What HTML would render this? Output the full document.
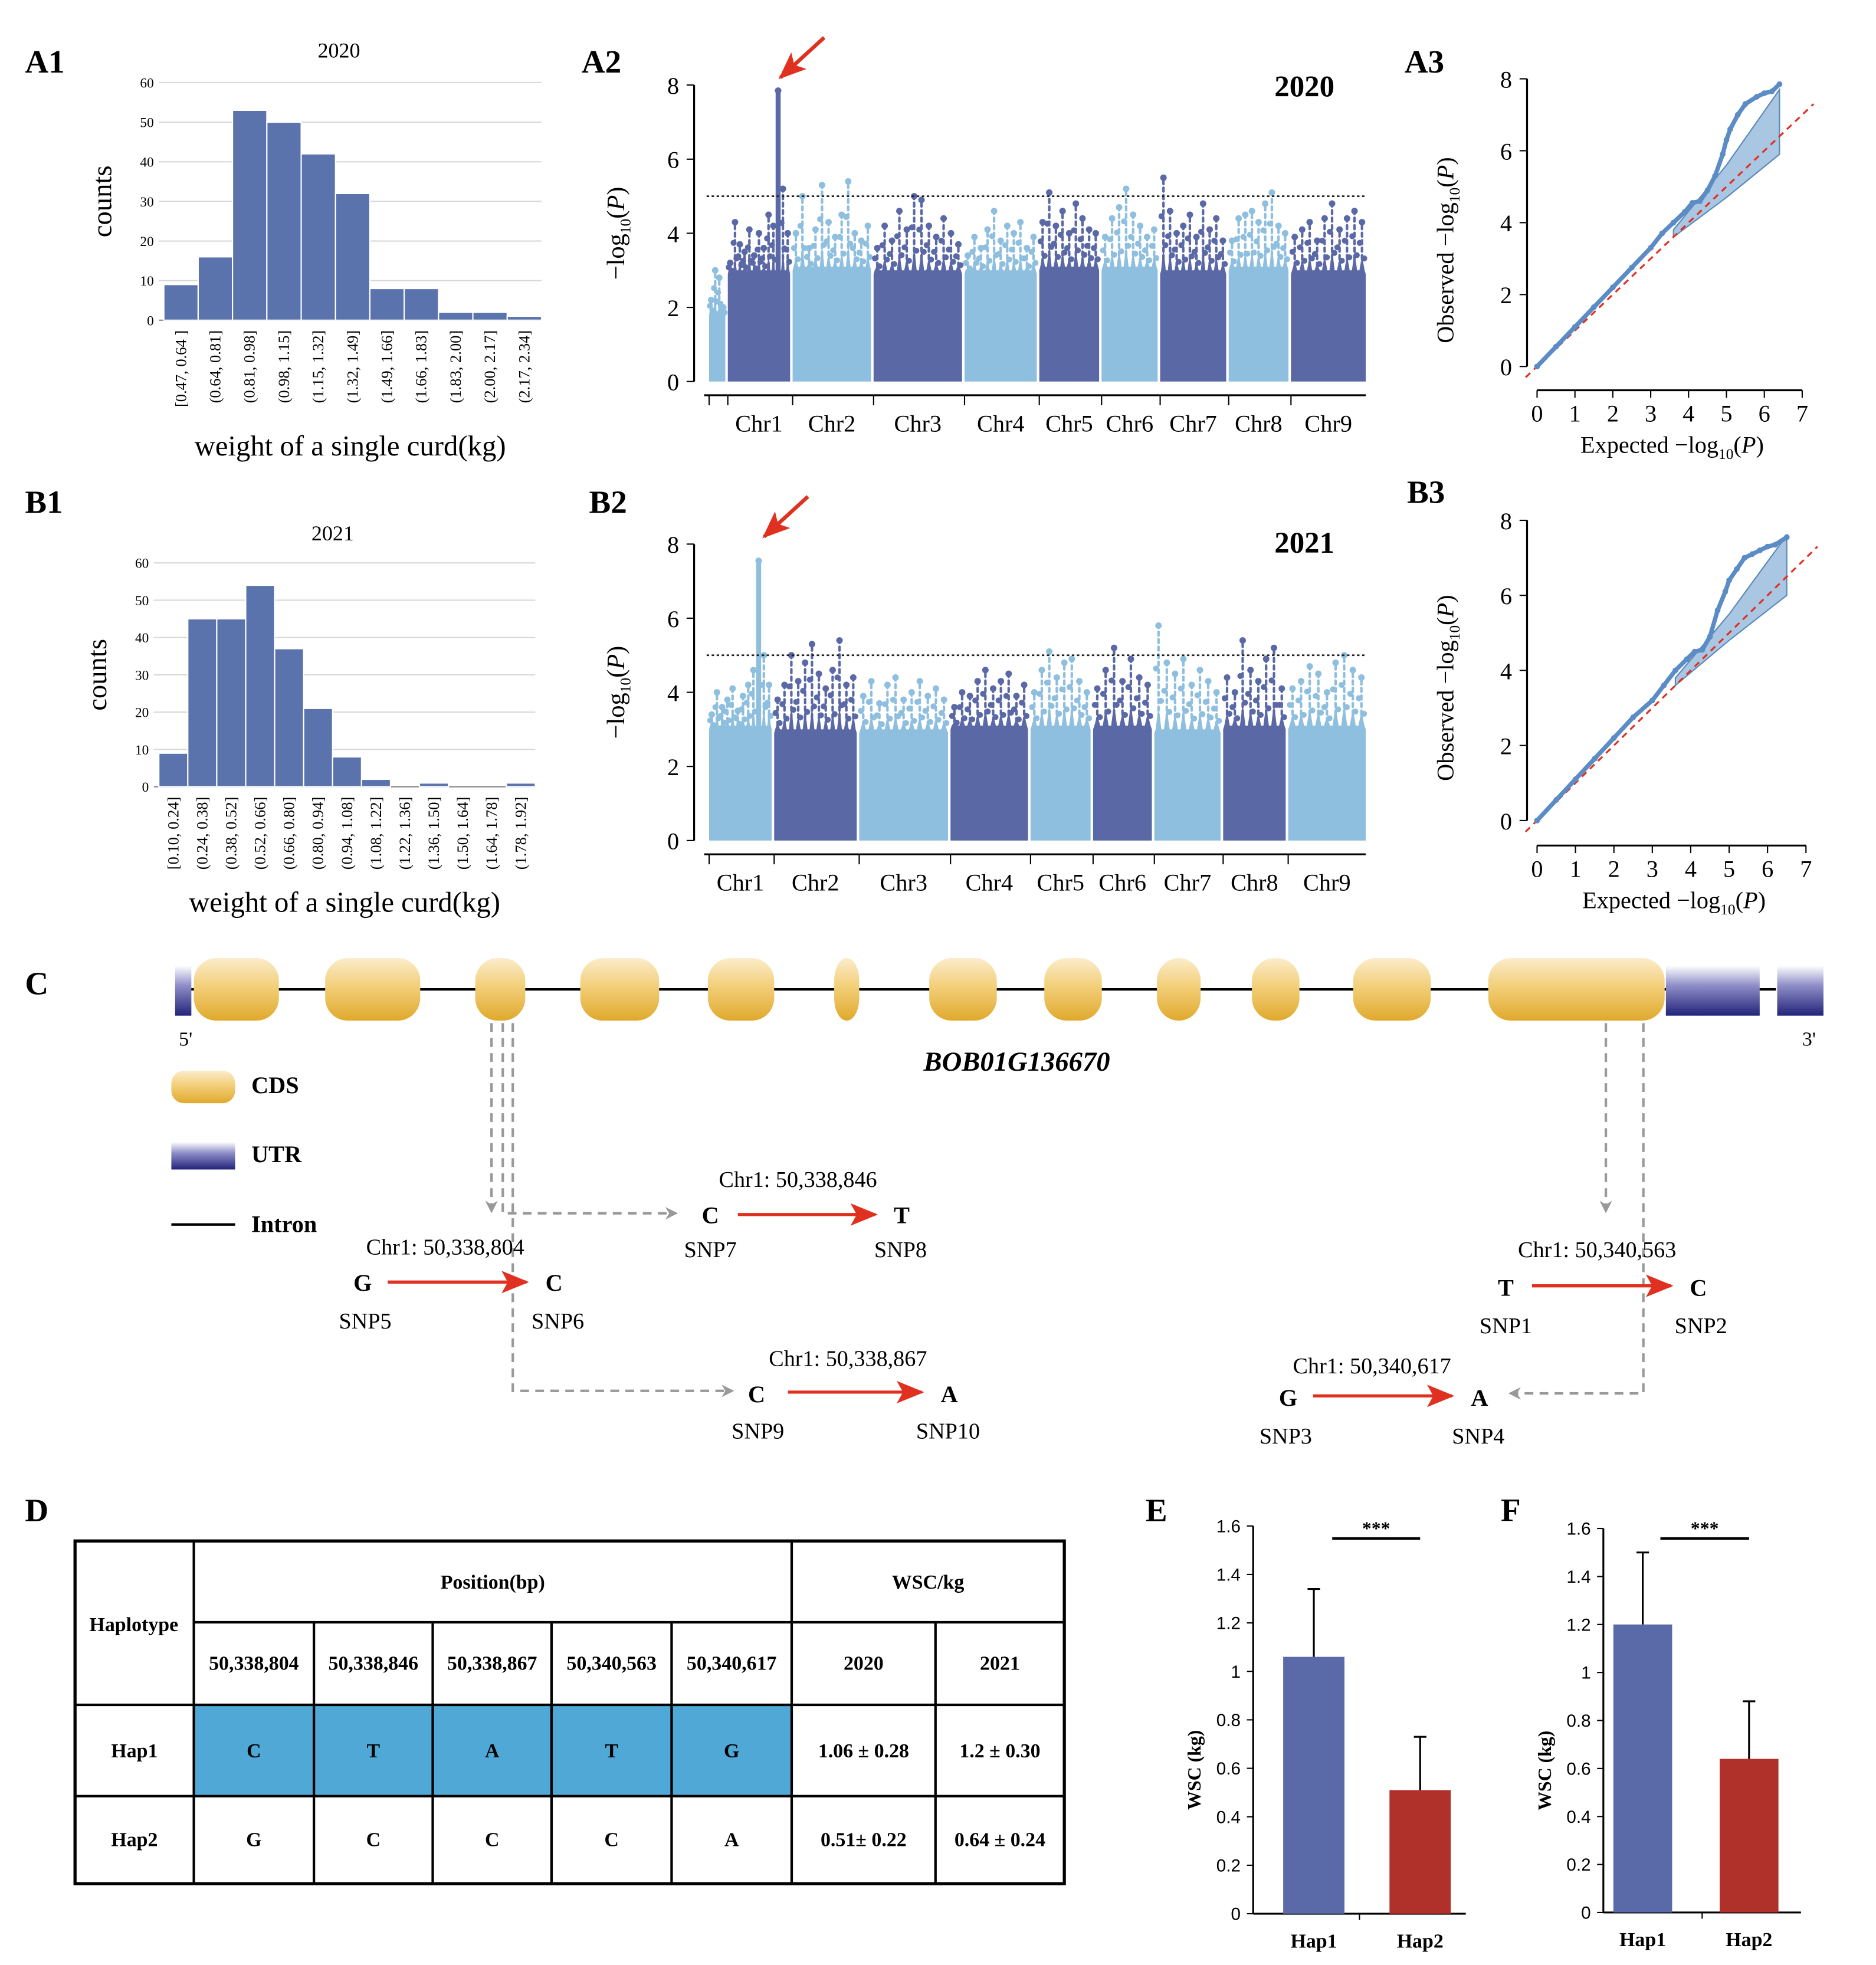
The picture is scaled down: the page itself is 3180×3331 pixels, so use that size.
<!DOCTYPE html>
<html><head><meta charset="utf-8">
<style>
html,body{margin:0;padding:0;background:#fff;}
svg{display:block;font-family:"Liberation Serif",serif;}
</style></head>
<body>
<svg id="fig" width="3180" height="3331" viewBox="0 0 1500 1571" preserveAspectRatio="none" xmlns="http://www.w3.org/2000/svg">
<defs>
<linearGradient id="cds" x1="0" y1="0" x2="0" y2="1">
<stop offset="0" stop-color="#fbeccb"/><stop offset="0.45" stop-color="#f3cf7a"/><stop offset="1" stop-color="#e0a92c"/></linearGradient>
<linearGradient id="utr" x1="0" y1="0" x2="0" y2="1">
<stop offset="0" stop-color="#ffffff"/><stop offset="0.4" stop-color="#8e8ec8"/><stop offset="1" stop-color="#23237a"/></linearGradient>
<marker id="ga" markerWidth="10" markerHeight="10" refX="8" refY="5" orient="auto" markerUnits="userSpaceOnUse"><path d="M0,0 L10,5 L0,10 L3,5 Z" fill="#999"/></marker>
<marker id="ra" markerWidth="22" markerHeight="18" refX="20" refY="9" orient="auto" markerUnits="userSpaceOnUse"><path d="M0,0 L22,9 L0,18 L5,9 Z" fill="#e03020"/></marker>
</defs>
<g id="root"></g>
</svg>
<script>
// ---------- DATA ----------
const histA1Values=[9,16,53,50,42,32,8,8,2,2,1];
const histA1Labels=["[0.47, 0.64 ]","(0.64, 0.81]","(0.81, 0.98]","(0.98, 1.15]","(1.15, 1.32]","(1.32, 1.49]","(1.49, 1.66]","(1.66, 1.83]","(1.83, 2.00]","(2.00, 2.17]","(2.17, 2.34]"];
const histB1Values=[9,45,45,54,37,21,8,2,0,1,0,0,1];
const histB1Labels=["[0.10, 0.24]","(0.24, 0.38]","(0.38, 0.52]","(0.52, 0.66]","(0.66, 0.80]","(0.80, 0.94]","(0.94, 1.08]","(1.08, 1.22]","(1.22, 1.36]","(1.36, 1.50]","(1.50, 1.64]","(1.64, 1.78]","(1.78, 1.92]"];
const histTicks=[0,10,20,30,40,50,60];

const chrNamesA2=["","Chr1","Chr2","Chr3","Chr4","Chr5","Chr6","Chr7","Chr8","Chr9"];
const chrLenA2=[13,50,63,71,58,48,45,53,48,60];
const chrBulkA2=[1.8,2.9,3.0,2.9,2.9,3.0,3.0,2.9,3.0,2.9];
const chrPeaksA2=[
 [2.2,3.0,2.8,2.0],
 [3.2,4.3,3.7,3.5,4.1,3.4,4.0,3.6,4.5,4.2,7.85,5.2,4.0],
 [4.0,5.0,3.6,4.1,5.3,4.3,3.9,4.5,5.4,4.0,3.8,4.2],
 [3.6,4.2,3.8,4.6,4.1,5.0,4.9,4.2,3.9,4.4,4.0,3.7],
 [3.4,3.9,3.6,4.1,4.6,3.8,4.2,4.0,4.3,3.6,3.9],
 [4.3,5.1,4.2,4.6,4.0,4.8,4.4,4.1,4.0],
 [3.9,4.4,4.7,5.2,4.5,4.2,3.9,4.1],
 [5.5,4.6,4.0,4.2,4.5,3.9,4.8,4.1,4.4,3.8],
 [3.8,4.4,4.5,4.6,4.3,4.8,5.1,4.2,4.0],
 [3.9,4.1,4.3,3.8,4.4,4.8,4.1,4.4,4.6,4.3]
];
const chrNamesB2=["Chr1","Chr2","Chr3","Chr4","Chr5","Chr6","Chr7","Chr8","Chr9"];
const chrLenB2=[50,66,71,62,48,47,53,50,62];
const chrBulkB2=[3.0,2.9,2.9,3.0,3.0,3.0,2.9,3.0,3.0];
const chrPeaksB2=[
 [3.4,4.0,3.6,3.8,4.1,3.5,3.9,4.2,4.6,7.55,5.0,4.2],
 [3.8,4.2,5.0,4.3,4.8,5.3,4.5,4.1,4.6,5.4,4.2,4.4],
 [3.9,4.3,3.7,4.2,4.4,3.8,4.0,4.3,3.9,4.1,3.8],
 [3.6,4.0,3.9,4.3,4.6,4.1,4.3,4.5,3.9,4.2],
 [4.0,4.6,5.1,4.4,4.8,4.9,4.3,4.0],
 [4.1,4.6,5.2,4.3,4.9,4.4,4.2],
 [5.8,4.8,4.5,4.9,4.2,4.6,4.3,4.0],
 [4.4,4.0,5.4,4.6,4.3,4.9,5.2,4.1],
 [4.1,4.3,4.7,4.5,4.0,4.8,5.0,4.6,4.4]
];
const manhattanTicks=[0,2,4,6,8];

const qqExpA3=[0,0.5,1,1.5,2,2.5,3,3.3,3.6,3.9,4.1,4.3,4.5,4.7,4.9,5.0,5.1,5.3,5.5,5.8,6.0,6.2,6.4];
const qqObsA3=[0,0.55,1.1,1.65,2.2,2.75,3.3,3.7,4.0,4.3,4.55,4.6,4.9,5.3,5.9,6.3,6.6,7.0,7.3,7.5,7.6,7.65,7.85];
const qqBandXA3=[3.6,5,6.4];
const qqBandUpA3=[3.8,5.6,7.7];
const qqBandLoA3=[3.6,4.7,5.9];
const qqExpB3=[0,0.5,1,1.5,2,2.5,3,3.3,3.6,3.9,4.1,4.3,4.5,4.7,4.9,5.0,5.2,5.4,5.6,5.8,6.0,6.2,6.5];
const qqObsB3=[0,0.55,1.1,1.65,2.2,2.75,3.2,3.6,4.0,4.3,4.5,4.55,4.9,5.6,6.1,6.4,6.7,7.0,7.1,7.2,7.3,7.35,7.55];
const qqBandXB3=[3.6,5,6.5];
const qqBandUpB3=[3.8,5.5,7.6];
const qqBandLoB3=[3.6,4.8,6.0];
const qqXTicks=[0,1,2,3,4,5,6,7];
const qqYTicks=[0,2,4,6,8];

const barCats=["Hap1","Hap2"];
const barE=[1.06,0.51];
const errE=[0.28,0.22];
const barF=[1.2,0.64];
const errF=[0.30,0.24];
const barTicks=["0","0.2","0.4","0.6","0.8","1","1.2","1.4","1.6"];

// ---------- HELPERS ----------
const NS="http://www.w3.org/2000/svg";
const root=document.getElementById('root');
function el(tag,attrs,parent,txt){const e=document.createElementNS(NS,tag);for(const k in attrs)e.setAttribute(k,attrs[k]);if(txt!==undefined)e.textContent=txt;(parent||root).appendChild(e);return e;}
function grp(name){const g=el('g',{});return g;}
function lin(d0,d1,r0,r1){return v=>r0+(v-d0)*(r1-r0)/(d1-d0);}

// ---------- PANEL LABELS ----------
const panelLabels=[["A1",20,58],["A2",465,58],["A3",1123,58],["B1",20,410],["B2",471,410],["B3",1125,402],["C",20,795],["D",20,1216],["E",916,1216],["F",1200,1216]];
const gl=grp('panel-labels');
panelLabels.forEach(p=>{const t=el('text',{x:p[1],y:p[2],'font-size':26,'font-weight':'bold'},gl,p[0]);});

// ---------- HISTOGRAMS ----------
function hist(name,vals,labels,x0,x1,yb,yt,title,tx,ty,xtY){
 const g=grp(name);
 const y=lin(0,60,yb,yt);
 histTicks.forEach(t=>{
  const l=el('line',{x1:x0-4,x2:x1,y1:y(t),y2:y(t),stroke:t==0?'#888':'#d8d8d8','stroke-width':1},g);
  
  const tt=el('text',{x:x0-8,y:y(t)+4,'font-size':11,'text-anchor':'end'},g,t);
  
 });
 const w=(x1-x0)/vals.length;
 vals.forEach((v,i)=>{
  const r=el('rect',{x:x0+i*w,y:y(v),width:w,height:yb-y(v),fill:'#5a73ad',stroke:'#fff','stroke-width':1},g);
  
  const t=el('text',{x:0,y:0,'font-size':12.5,'text-anchor':'end',transform:`translate(${x0+i*w+w/2+4},${yb+8}) rotate(-90)`},g,labels[i]);
  
 });
 const ti=el('text',{x:tx,y:ty,'font-size':17,'text-anchor':'middle'},g,title);
 const yl=el('text',{x:0,y:0,'font-size':22,'text-anchor':'middle',transform:`translate(${x0-42},${(yb+yt)/2}) rotate(-90)`},g,'counts');
 
 const xl=el('text',{x:(x0+x1)/2-2,y:xtY,'font-size':23,'text-anchor':'middle'},g,'weight of a single curd(kg)');
 
}
hist('histogram-a1',histA1Values,histA1Labels,131,433,256,66,'2020',271,46,364);
hist('histogram-b1',histB1Values,histB1Labels,127,428,629,450,'2021',266,432,729);

// ---------- MANHATTAN ----------
function manhattan(name,names,lens,bulks,peaks,darkFirst,yb,yt,x0,x1,title,ty,arrowX,tickY,tickLblY){
 const g=grp(name);
 const y=lin(0,8,yb,yt);
 const total=lens.reduce((a,b)=>a+b,0)+2*(lens.length-1);
 const xs=lin(0,total,x0+2,x1);
 const dark='#5a68a6',light='#8fbfde';
 let a=el('line',{x1:x0-10,x2:x0-10,y1:yb,y2:yt,stroke:'#000','stroke-width':1.5},g);
 manhattanTicks.forEach(t=>{el('line',{x1:x0-16,x2:x0-10,y1:y(t),y2:y(t),stroke:'#000'},g);
  const tt=el('text',{x:x0-22,y:y(t)+7,'font-size':19,'text-anchor':'end'},g,t);});
 const yl=el('text',{x:0,y:0,'font-size':20,'text-anchor':'middle',transform:`translate(${x0-66},${(yb+yt)/2}) rotate(-90)`},g);
 
 el('tspan',{},yl,'\u2212log');el('tspan',{'font-size':12,dy:5},yl,'10');el('tspan',{dy:-5},yl,'(');el('tspan',{'font-style':'italic'},yl,'P');el('tspan',{},yl,')');
 a=el('line',{x1:x0-2,x2:x1,y1:tickY,y2:tickY,stroke:'#000','stroke-width':1.5},g);
 let cum=0;
 lens.forEach((L,i)=>{
  const s=xs(cum),e=xs(cum+L);cum+=L+2;
  const isDark=(i%2==0)===darkFirst;const c=isDark?dark:light;
  const pk=peaks[i];const n=pk.length;const dx=(e-s)/n;
  let pts=[s+','+yb];
  pts.push(s+','+y(bulks[i]));
  pk.forEach((v,j)=>{const px=s+(j+0.5)*dx;const m=bulks[i]+(Math.min(v,5)-bulks[i])*0.35;
   pts.push((px-dx*0.35)+','+y(bulks[i]+0.1));pts.push(px+','+y(m));pts.push((px+dx*0.35)+','+y(bulks[i]+0.1));});
  pts.push(e+','+y(bulks[i]));pts.push(e+','+yb);
  const r=el('polygon',{points:pts.join(' '),fill:c},g);
  
  pk.forEach((v,j)=>{
   const px=s+(j+0.5)*dx;
   const st=el('line',{x1:px,x2:px,y1:y(bulks[i]),y2:y(v),stroke:c,'stroke-width':v>6?4:2,'stroke-dasharray':v>6?'none':'3,3','stroke-linecap':'round'},g);
   
   const d=el('circle',{cx:px,cy:y(v),r:2.6,fill:c},g);
   if(v<6){
    [0.3,0.6].forEach((f,k)=>{const d2=el('circle',{cx:px+(k?-1:1)*dx*0.3,cy:y(bulks[i]+(v-bulks[i])*f),r:2.4,fill:c},g);});
   }
  });
  el('line',{x1:s,x2:s,y1:tickY,y2:tickY+8,stroke:'#000'},g);
  if(names[i]){const t=el('text',{x:(s+e)/2,y:tickLblY,'font-size':19,'text-anchor':'middle'},g,names[i]);}
 });
 const th=el('line',{x1:x0,x2:x1,y1:y(5),y2:y(5),stroke:'#222','stroke-width':1.3,'stroke-dasharray':'2,2'},g);
 
 const ti=el('text',{x:x1-25,y:ty,'font-size':24,'font-weight':'bold','text-anchor':'end'},g,title);
 const ar=el('line',{x1:arrowX+35,y1:yt-38,x2:arrowX,y2:yt-6,stroke:'#e03020','stroke-width':3,'marker-end':'url(#ra)'},g);
 
}
manhattan('manhattan-a2',chrNamesA2,chrLenA2,chrBulkA2,chrPeaksA2,false,305,68,565,1092,'2020',77,624,316,345);
manhattan('manhattan-b2',chrNamesB2,chrLenB2,chrBulkB2,chrPeaksB2,false,672,435,565,1092,'2021',442,611,683,712);

// ---------- QQ ----------
function qq(name,ex,ob,bx,bu,bl,x0,x1,yb,yt,xaxY,ylblY){
 const g=grp(name);
 const x=lin(0,7,x0,x1),y=lin(0,8,yb,yt);
 let a=el('line',{x1:x0-8,x2:x0-8,y1:yb,y2:yt,stroke:'#000','stroke-width':1.5},g);
 qqYTicks.forEach(t=>{el('line',{x1:x0-14,x2:x0-8,y1:y(t),y2:y(t),stroke:'#000'},g);
  const tt=el('text',{x:x0-20,y:y(t)+7,'font-size':19,'text-anchor':'end'},g,t);});
 a=el('line',{x1:x0,x2:x(7),y1:xaxY,y2:xaxY,stroke:'#000','stroke-width':1.5},g);
 qqXTicks.forEach(t=>{el('line',{x1:x(t),x2:x(t),y1:xaxY,y2:xaxY+6,stroke:'#000'},g);
  const tt=el('text',{x:x(t),y:xaxY+25,'font-size':19,'text-anchor':'middle'},g,t);});
 let pts=bx.map((v,i)=>x(v)+','+y(bu[i])).concat(bx.slice().reverse().map((v,i)=>x(v)+','+y(bl[bl.length-1-i])));
 const band=el('polygon',{points:pts.join(' '),fill:'#a9c6e2',stroke:'#5a88b8','stroke-width':1},g);
 const dl=el('line',{x1:x(-0.3),y1:y(-0.3),x2:x(7.3),y2:y(7.3),stroke:'#e03020','stroke-width':1.5,'stroke-dasharray':'5,4'},g);
 
 const pl=el('polyline',{points:ex.map((v,i)=>x(v)+','+y(ob[i])).join(' '),fill:'none',stroke:'#5b8cc6','stroke-width':3.5,'stroke-linejoin':'round'},g);
 
 ex.forEach((v,i)=>{const c=el('circle',{cx:x(v),cy:y(ob[i]),r:2.3,fill:'#5b8cc6'},g);});
 const xl=el('text',{x:(x0+x(7))/2+2,y:xaxY+50,'font-size':19,'text-anchor':'middle'},g);
 el('tspan',{},xl,'Expected  \u2212log');el('tspan',{'font-size':12,dy:5},xl,'10');el('tspan',{dy:-5},xl,'(');el('tspan',{'font-style':'italic'},xl,'P');el('tspan',{},xl,')');
 const yl=el('text',{x:0,y:0,'font-size':19,'text-anchor':'middle',transform:`translate(${x0-67},${ylblY}) rotate(-90)`},g);
 el('tspan',{},yl,'Observed  \u2212log');el('tspan',{'font-size':12,dy:5},yl,'10');el('tspan',{dy:-5},yl,'(');el('tspan',{'font-style':'italic'},yl,'P');el('tspan',{},yl,')');
}
qq('qq-a3',qqExpA3,qqObsA3,qqBandXA3,qqBandUpA3,qqBandLoA3,1229,1441,293,63,312,200);
qq('qq-b3',qqExpB3,qqObsB3,qqBandXB3,qqBandUpB3,qqBandLoB3,1229,1444,656,416,676,550);

// ---------- GENE MODEL ----------
(function(){
 const g=grp('gene-model');
 const il=el('line',{x1:150,x2:1420,y1:791,y2:791,stroke:'#000','stroke-width':2},g);
 [[140,153],[1332,1407],[1421,1458]].forEach(u=>{const r=el('rect',{x:u[0],y:772,width:u[1]-u[0],height:40,fill:'url(#utr)'},g);});
 [[155,223],[260,336],[380,420],[464,527],[566,619],[667,687],[743,797],[835,881],[925,960],[1001,1039],[1082,1144],[1190,1331]].forEach(e=>{
  const w=e[1]-e[0];const r=el('rect',{x:e[0],y:766,width:w,height:50,rx:Math.min(w/2,18),ry:18,fill:'url(#cds)'},g);});
 const t=[["5'",143,836,16,''],["3'",1441,836,16,''],["BOB01G136670",813,856,22,'bi']];
 t.forEach(a=>{const tx=el('text',{x:a[1],y:a[2],'font-size':a[3],'text-anchor':a[4]?'middle':'start','font-weight':a[4]?'bold':'normal','font-style':a[4]?'italic':'normal'},g,a[0]);});
 let r=el('rect',{x:137,y:856,width:51,height:26,rx:10,fill:'url(#cds)'},g);
 r=el('rect',{x:137,y:913,width:51,height:22,fill:'url(#utr)'},g);
 r=el('line',{x1:137,x2:188,y1:979,y2:979,stroke:'#000','stroke-width':2},g);
 [["CDS",874],["UTR",929],["Intron",985]].forEach(a=>{const tx=el('text',{x:201,y:a[1],'font-size':19,'font-weight':'bold'},g,a[0]);});
 const ds={stroke:'#999','stroke-width':2,'stroke-dasharray':'7,5',fill:'none','marker-end':'url(#ga)'};
 [["M393,818 L393,968"],["M402,818 L402,970 L540,970"],["M410,818 L410,1112 L585,1112"],["M1284,818 L1284,968"],["M1314,818 L1314,1114 L1208,1114"]].forEach(p=>{
  const a=el('path',Object.assign({d:p[0]},ds),g);});
 const snps=[
  ["Chr1: 50,338,804",356,1003,"G",290,1032,"C",443,1032,"SNP5",292,1062,"SNP6",446,1062,310,421,1025],
  ["Chr1: 50,338,846",638,949,"C",568,978,"T",721,978,"SNP7",568,1005,"SNP8",720,1005,590,700,971],
  ["Chr1: 50,338,867",678,1092,"C",605,1121,"A",759,1121,"SNP9",606,1150,"SNP10",758,1150,630,737,1113],
  ["Chr1: 50,340,563",1277,1005,"T",1204,1036,"C",1358,1036,"SNP1",1204,1066,"SNP2",1360,1066,1225,1336,1028],
  ["Chr1: 50,340,617",1097,1098,"G",1030,1124,"A",1183,1124,"SNP3",1028,1154,"SNP4",1182,1154,1050,1161,1116]
 ];
 snps.forEach(s=>{
  let tx=el('text',{x:s[1],y:s[2],'font-size':18,'text-anchor':'middle'},g,s[0]);
  tx=el('text',{x:s[4],y:s[5],'font-size':19,'font-weight':'bold','text-anchor':'middle'},g,s[3]);
  tx=el('text',{x:s[7],y:s[8],'font-size':19,'font-weight':'bold','text-anchor':'middle'},g,s[6]);
  tx=el('text',{x:s[10],y:s[11],'font-size':18,'text-anchor':'middle'},g,s[9]);
  tx=el('text',{x:s[13],y:s[14],'font-size':18,'text-anchor':'middle'},g,s[12]);
  const a=el('line',{x1:s[15],x2:s[16],y1:s[17],y2:s[17],stroke:'#e03020','stroke-width':2.5,'marker-end':'url(#ra)'},g);
 });
})();

// ---------- TABLE ----------
(function(){
 const g=grp('haplotype-table');
 const cx=[60,155,251,346,441,537,633,748,851];
 const r=el('rect',{x:155,y:1363,width:478,height:73,fill:'#4fa8d5'},g);
 const L=(x1,y1,x2,y2)=>{const l=el('line',{x1,y1,x2,y2,stroke:'#000','stroke-width':2},g);};
 el('rect',{x:60,y:1232,width:791,height:274,fill:'none',stroke:'#000','stroke-width':2.5},g);
 L(155,1232,155,1506);L(633,1232,633,1506);L(155,1297,851,1297);L(60,1363,851,1363);L(60,1436,851,1436);
 [251,346,441,537,748].forEach(x=>L(x,1297,x,1506));
 const T=(x,y,s)=>{const t=el('text',{x,y,'font-size':16,'font-weight':'bold','text-anchor':'middle'},g,s);};
 T(107,1304,'Haplotype');T(394,1270,'Position(bp)');T(742,1270,'WSC/kg');
 ['50,338,804','50,338,846','50,338,867','50,340,563','50,340,617','2020','2021'].forEach((s,i)=>T((cx[i+1]+cx[i+2])/2,1335,s));
 ['Hap1','C','T','A','T','G','1.06 \u00b1 0.28','1.2 \u00b1 0.30'].forEach((s,i)=>T((cx[i]+cx[i+1])/2,1405,s));
 ['Hap2','G','C','C','C','A','0.51\u00b1 0.22','0.64 \u00b1 0.24'].forEach((s,i)=>T((cx[i]+cx[i+1])/2,1476,s));
})();

// ---------- BAR CHARTS ----------
function bars(name,vals,errs,x0,x1,yb,yt,bx,bw,sigY){
 const g=grp(name);
 const y=lin(0,1.6,yb,yt);
 const cols=['#5a6aa9','#b0302a'];
 let a=el('line',{x1:x0,x2:x0,y1:yb,y2:yt,stroke:'#000','stroke-width':1.5},g);
 a=el('line',{x1:x0,x2:x1,y1:yb,y2:yb,stroke:'#000','stroke-width':1.5},g);
 barTicks.forEach(t=>{el('line',{x1:x0-5,x2:x0,y1:y(+t),y2:y(+t),stroke:'#000'},g);
  const tt=el('text',{x:x0-10,y:y(+t)+5,'font-size':14,'text-anchor':'end','font-family':'Liberation Sans, sans-serif'},g,t);});
 el('line',{x1:(x0+x1)/2,x2:(x0+x1)/2,y1:yb,y2:yb+5,stroke:'#000'},g);
 vals.forEach((v,i)=>{
  const r=el('rect',{x:bx[i],y:y(v),width:bw,height:yb-y(v),fill:cols[i]},g);
  const cx=bx[i]+bw/2;
  const e=el('path',{d:`M${cx},${y(v)} L${cx},${y(v+errs[i])} M${cx-5},${y(v+errs[i])} L${cx+5},${y(v+errs[i])}`,stroke:'#000','stroke-width':1.5},g);
  const t=el('text',{x:cx,y:yb+27,'font-size':16,'font-weight':'bold','text-anchor':'middle'},g,barCats[i]);
 });
 const sl=el('line',{x1:bx[0]+bw*0.8,x2:bx[1]+bw*0.5,y1:sigY,y2:sigY,stroke:'#000','stroke-width':2},g);
 const st=el('text',{x:(bx[0]+bw*0.8+bx[1]+bw*0.5)/2,y:sigY-3,'font-size':15,'font-weight':'bold','text-anchor':'middle'},g,'***');
 const yl=el('text',{x:0,y:0,'font-size':15,'font-weight':'bold','text-anchor':'middle',transform:`translate(${x0-42},${(yb+yt)/2+40}) rotate(-90)`},g,'WSC (kg)');
}
bars('bar-chart-e',barE,errE,1002,1172,1530,1220,[1026,1111],49,1230);
bars('bar-chart-f',barF,errF,1282,1440,1529,1222,[1290,1375],47,1230);
</script>
</body></html>
